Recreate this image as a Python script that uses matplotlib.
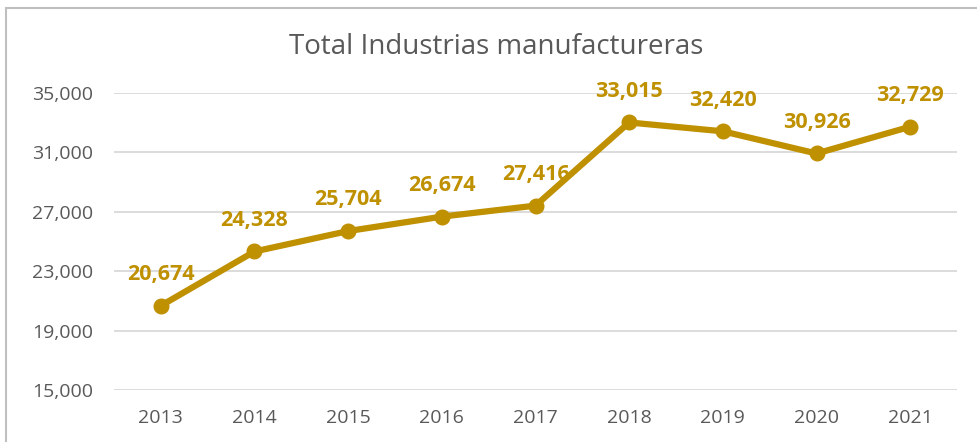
import matplotlib.pyplot as plt
from matplotlib.patches import Rectangle
from matplotlib.ticker import FuncFormatter

years = ['2013', '2014', '2015', '2016', '2017', '2018', '2019', '2020', '2021']
values = [20674, 24328, 25704, 26674, 27416, 33015, 32420, 30926, 32729]

gold = '#BF9000'
grey = '#595959'

plt.rcParams['font.family'] = ['Open Sans', 'DejaVu Sans']

fig = plt.figure(figsize=(9.77, 4.42), dpi=100)
ax = fig.add_axes([114 / 977, 1 - 390 / 442, (957 - 114) / 977, (390 - 93) / 442])

# outer chart border (cut at the right and bottom)
fig.patches.append(Rectangle((6 / 977, -0.1), 1.1, 1 - 8 / 442 + 0.1,
                             transform=fig.transFigure, fill=False,
                             edgecolor='#BFBFBF', linewidth=1.5))

x = list(range(len(years)))
ax.plot(x, values, color=gold, linewidth=4.5, marker='o', markersize=10.5,
        solid_capstyle='round', zorder=3)

for xi, v in zip(x, values):
    ax.annotate(f'{v:,}', (xi, v), xytext=(0, 18.5), textcoords='offset points',
                ha='center', va='baseline', color=gold, fontsize=15.5,
                fontweight='bold')

ax.set_xlim(-0.5, len(years) - 0.5)
ax.set_ylim(15000, 35000)
ax.set_yticks(range(15000, 35001, 4000))
ax.yaxis.set_major_formatter(FuncFormatter(lambda v, p: f'{int(v):,}'))
ax.set_xticks(x)
ax.set_xticklabels(years)
ax.grid(axis='y', color='#D9D9D9', linewidth=1.3)
ax.set_axisbelow(True)
for s in ax.spines.values():
    s.set_visible(False)
ax.tick_params(length=0, labelsize=14, labelcolor=grey)
ax.tick_params(axis='y', pad=15)
ax.tick_params(axis='x', pad=14)

fig.text(496 / 977, 1 - 53.5 / 442, 'Total Industrias manufactureras',
         ha='center', va='baseline', fontsize=20, color=grey)

fig.savefig('out.png', dpi=100)
